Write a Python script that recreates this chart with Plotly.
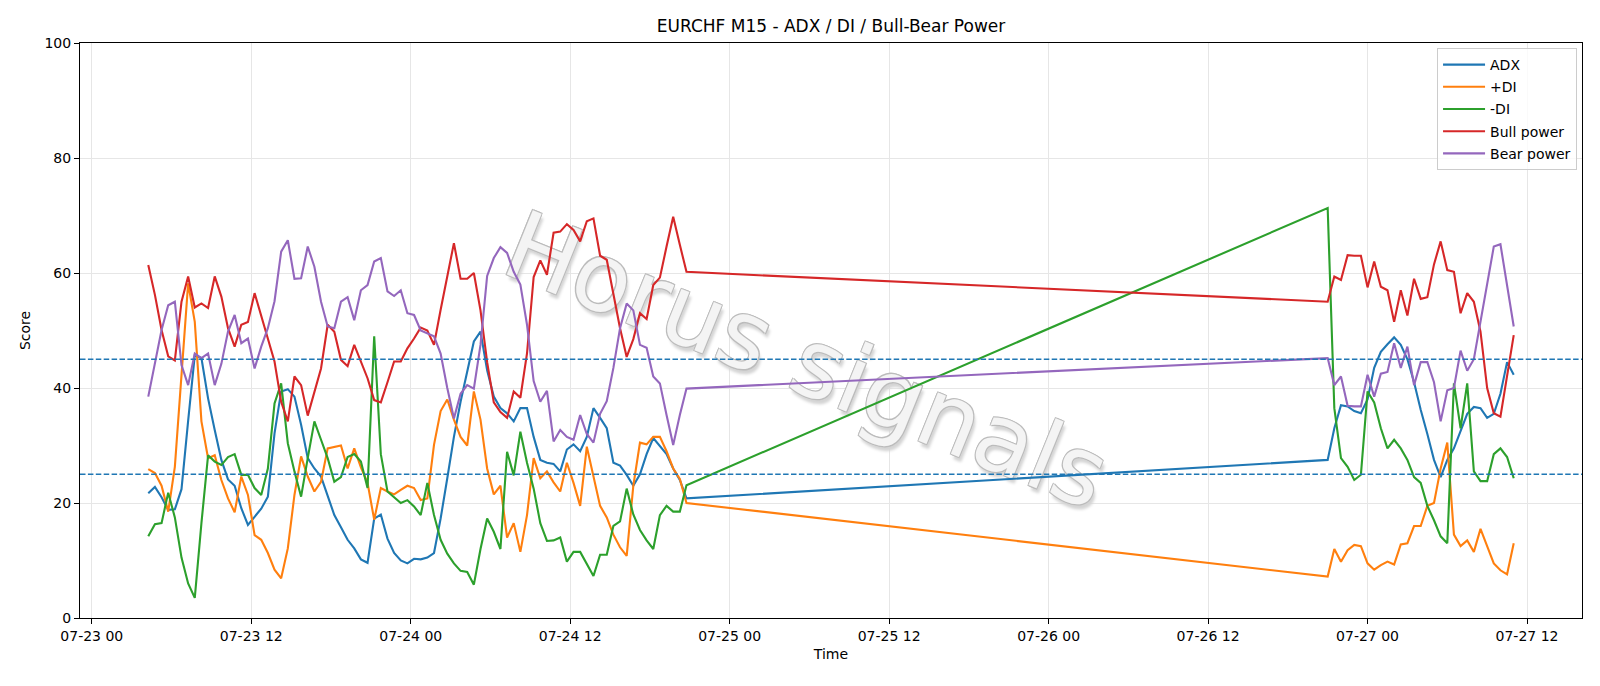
import pandas as pd
import plotly.graph_objects as go

# ---------------- data ----------------
seg1_start = "2020-07-23 04:15"
seg1_count = 82
seg2_start = "2020-07-26 21:00"
seg2_count = 29

adx = [21.7, 22.8, 21.0, 18.8, 18.9, 22.4, 34.3, 45.7, 45.2, 38.2, 32.7, 27.5, 24.1, 23.0,
       19.1, 16.2, 17.6, 19.0, 21.1, 32.1, 39.4, 39.8, 38.5, 33.6, 27.8, 26.0, 24.6, 21.1, 17.9,
       15.8, 13.6, 12.1, 10.2, 9.6, 17.3, 18.0, 13.8, 11.3, 10.0, 9.5, 10.3, 10.2, 10.5,
       11.3, 17.3, 24.3, 31.5, 37.6, 43.1, 48.1, 49.8, 43.1, 38.5, 36.5, 35.6, 34.2, 36.5,
       36.5, 31.5, 27.5, 27.0, 26.8, 25.5, 29.3, 30.2, 29.0, 31.5, 36.5, 34.8, 33.0, 27.0,
       26.5, 24.9, 23.0, 25.0, 28.5, 31.3, 29.8, 28.5, 26.0, 24.0, 20.8,
       27.5, 33.0, 37.0, 36.8, 36.0, 35.6, 38.0, 43.5, 46.3, 47.6, 48.8,
       47.5, 45.0, 41.0, 36.2, 32.0, 27.5, 24.5, 27.5, 29.5,
       32.5, 35.5, 36.7, 36.5, 34.8, 35.5, 39.0, 44.5, 42.3]

plus_di = [25.9, 25.2, 23.0, 18.5, 26.3, 42.0, 58.2, 51.5, 34.2, 27.8, 28.3, 24.0, 20.8, 18.4,
           24.6, 21.4, 14.4, 13.6, 11.3, 8.4, 6.9, 12.1, 21.4, 28.1, 24.6, 22.0, 23.7, 29.5, 29.8,
           30.0, 26.0, 29.5, 26.2, 23.5, 17.1, 22.6, 22.0, 21.5, 22.3, 23.0, 22.6, 20.5, 20.8,
           30.1, 36.0, 38.0, 34.5, 31.5, 30.0, 39.4, 34.5, 26.0, 21.5, 23.0, 14.0, 16.5, 11.5,
           17.9, 27.8, 24.3, 25.5, 23.6, 22.0, 27.0, 23.5, 19.5, 29.8, 24.5, 19.5, 17.5, 14.5,
           12.3, 10.8, 23.0, 30.5, 30.2, 31.5, 31.5, 29.0, 26.0, 24.2, 20.0,
           7.2, 12.0, 9.8, 11.8, 12.7, 12.5, 9.5, 8.4, 9.2, 9.8, 9.3,
           12.8, 13.0, 16.0, 16.0, 19.5, 20.0, 26.0, 30.5, 14.5,
           12.5, 13.5, 11.5, 15.5, 12.5, 9.5, 8.3, 7.6, 13.0]

minus_di = [14.2, 16.3, 16.5, 21.8, 17.5, 10.5, 6.0, 3.5, 16.5, 28.3, 27.2, 26.6, 28.0, 28.5,
            24.9, 24.9, 22.6, 21.4, 26.0, 37.3, 40.8, 30.4, 25.5, 21.1, 27.8, 34.2, 31.0, 27.8, 23.7,
            24.5, 28.0, 28.5, 27.2, 22.6, 49.0, 28.5, 22.0, 21.0, 20.0, 20.5, 19.4, 17.9, 23.5,
            17.9, 13.6, 11.2, 9.5, 8.2, 8.0, 5.8, 12.0, 17.3, 15.0, 12.0, 28.9, 24.8, 32.4,
            27.0, 22.5, 16.5, 13.4, 13.5, 14.0, 9.8, 11.5, 11.5, 9.5, 7.3, 11.0, 11.0, 16.0,
            16.8, 22.5, 18.0, 15.3, 13.5, 12.0, 17.9, 19.5, 18.5, 18.5, 23.1,
            71.3, 36.5, 27.8, 26.3, 24.0, 24.9, 39.4, 37.5, 33.0, 29.5, 31.0,
            29.5, 27.5, 24.5, 23.5, 19.5, 17.0, 14.2, 13.0, 40.8,
            33.0, 40.8, 25.5, 23.8, 23.8, 28.5, 29.5, 28.0, 24.3]

bull_power = [61.4, 56.2, 50.1, 45.5, 44.8, 55.0, 59.4, 54.0, 54.7, 53.9, 59.4, 55.9, 50.4, 47.2,
              51.0, 51.5, 56.5, 52.4, 48.6, 44.6, 37.6, 34.2, 42.0, 40.5, 35.2, 39.1, 43.4, 51.0, 49.8,
              44.9, 43.8, 47.5, 44.5, 41.7, 37.9, 37.5, 41.0, 44.6, 44.6, 46.9, 48.6, 50.5, 50.0,
              47.5, 53.6, 59.7, 65.2, 59.0, 59.0, 60.0, 53.5, 44.5, 37.5, 35.8, 34.8, 39.4, 38.3,
              46.0, 59.3, 62.2, 59.7, 67.0, 67.2, 68.5, 67.5, 65.5, 69.0, 69.5, 63.0, 62.3, 56.0,
              50.4, 45.4, 48.5, 53.0, 52.0, 57.9, 59.2, 64.6, 69.8, 64.9, 60.2,
              55.0, 59.4, 58.8, 63.1, 63.0, 63.0, 57.5, 62.0, 57.6, 57.0, 51.5,
              57.0, 52.6, 59.0, 55.5, 55.8, 61.5, 65.5, 60.5, 60.2,
              53.0, 56.5, 55.0, 49.8, 40.0, 35.6, 35.0, 42.0, 49.2]

bear_power = [38.5, 44.0, 50.1, 54.4, 55.0, 44.0, 40.5, 46.0, 45.2, 46.0, 40.5, 44.2, 49.8, 52.7,
              47.8, 48.6, 43.4, 47.2, 50.4, 55.1, 63.7, 65.7, 59.0, 59.1, 64.6, 61.1, 55.0, 50.7, 50.4,
              55.0, 55.8, 51.8, 57.0, 57.9, 62.0, 62.6, 56.8, 56.0, 57.0, 53.0, 52.7, 50.0, 49.5,
              49.0, 46.0, 40.0, 34.7, 39.0, 40.5, 39.9, 47.5, 59.5, 62.6, 64.5, 63.5, 60.2, 58.0,
              51.0, 41.2, 37.6, 39.5, 30.7, 32.7, 31.5, 31.0, 35.3, 32.0, 30.5, 35.5, 37.7, 43.5,
              50.4, 54.7, 53.5, 47.5, 47.0, 42.0, 40.8, 35.3, 30.1, 35.3, 39.9,
              45.2, 40.5, 42.0, 36.9, 36.8, 36.8, 42.3, 38.5, 42.5, 42.8, 47.8,
              43.5, 47.2, 40.5, 44.5, 44.5, 41.0, 34.2, 39.6, 40.0,
              46.5, 43.0, 45.0, 51.5, 58.5, 64.6, 65.0, 57.5, 50.7]

thresholds = [45, 25]
tick_start = "2020-07-23 00:00"
tick_labels = ["07-23 00", "07-23 12", "07-24 00", "07-24 12", "07-25 00",
               "07-25 12", "07-26 00", "07-26 12", "07-27 00", "07-27 12"]
y_ticks = [0, 20, 40, 60, 80, 100]
watermark = "Horus signals"

series = [("ADX", adx, "#1f77b4"),
          ("+DI", plus_di, "#ff7f0e"),
          ("-DI", minus_di, "#2ca02c"),
          ("Bull power", bull_power, "#d62728"),
          ("Bear power", bear_power, "#9467bd")]

# ---------------- figure ----------------
times = list(pd.date_range(seg1_start, periods=seg1_count, freq="30min")) + \
        list(pd.date_range(seg2_start, periods=seg2_count, freq="30min"))
tick_vals = list(pd.date_range(tick_start, periods=len(tick_labels), freq="12h"))
span = times[-1] - times[0]
x_range = [times[0] - span * 0.05, times[-1] + span * 0.05]

FONT = "DejaVu Sans"
fig = go.Figure()
for i, (name, vals, color) in enumerate(series):
    fig.add_trace(go.Scatter(x=times, y=vals, mode="lines", name=name,
                             line=dict(color=color, width=2.1),
                             legendgroup=f"g{i}"))

for t in thresholds:
    fig.add_hline(y=t, line=dict(color="#1f77b4", width=1.4, dash="5.5px,2.4px"))

mid_x = pd.Timestamp("2020-07-25 06:00")
wm_shadow = ("-1px -1px 0 #bcbcbc, 1px -1px 0 #bcbcbc, -1px 1px 0 #bcbcbc, "
             "1px 1px 0 #bcbcbc, 4px 4px 3px #d4d4d4")
fig.add_shape(type="rect", xref="x", yref="y",
              x0=mid_x - pd.Timedelta(hours=24), x1=mid_x + pd.Timedelta(hours=24),
              y0=29, y1=63, line=dict(width=0), fillcolor="rgba(0,0,0,0)",
              layer="between",
              label=dict(text=watermark, textangle=22, textposition="middle center",
                         font=dict(family=FONT, size=95, color="#f4f4f4",
                                   shadow=wm_shadow)))

fig.update_layout(
    width=1600, height=686,
    margin=dict(l=80, r=18, t=43, b=68),
    paper_bgcolor="white", plot_bgcolor="white",
    font=dict(family=FONT, size=14, color="black"),
    title=dict(text="EURCHF M15 - ADX / DI / Bull-Bear Power", x=0.5, xref="paper",
               y=1 - 26.5 / 686, yref="container", yanchor="middle", xanchor="center",
               font=dict(family=FONT, size=17, color="black")),
    legend=dict(x=0.9967, y=0.9913, xanchor="right", yanchor="top",
                bordercolor="#cccccc", borderwidth=1, bgcolor="rgba(255,255,255,0.8)",
                font=dict(family=FONT, size=14), traceorder="grouped", tracegroupgap=1,
                itemwidth=42),
    showlegend=True,
)
fig.update_xaxes(range=x_range, tickvals=tick_vals, ticktext=tick_labels,
                 showline=True, linecolor="black", linewidth=1, mirror=True,
                 ticks="outside", ticklen=5, tickwidth=1, tickcolor="black",
                 showgrid=True, gridcolor="#e6e6e6", gridwidth=1, zeroline=False,
                 title=dict(text="Time", standoff=6, font=dict(size=14)),
                 tickfont=dict(size=14))
fig.update_yaxes(range=[0, 100], tickvals=y_ticks,
                 showline=True, linecolor="black", linewidth=1, mirror=True,
                 ticks="outside", ticklen=5, tickwidth=1, tickcolor="black",
                 showgrid=True, gridcolor="#e6e6e6", gridwidth=1, zeroline=False,
                 title=dict(text="Score", standoff=10, font=dict(size=14)),
                 tickfont=dict(size=14))

fig.write_html("out.html")
